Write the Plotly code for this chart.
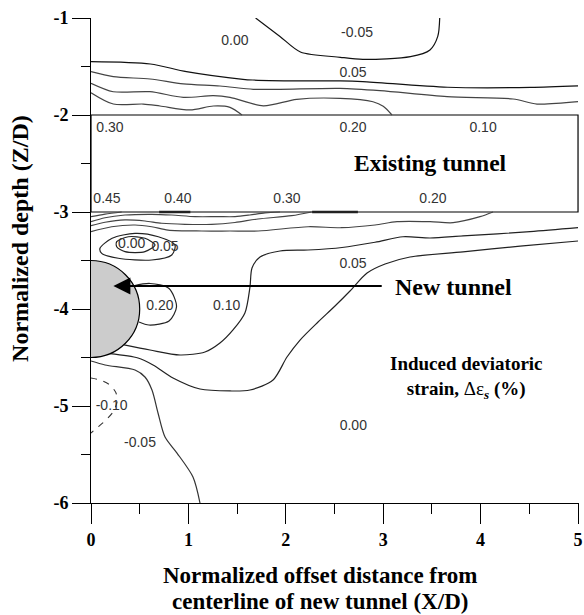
import plotly.graph_objects as go

# ---------------- contour lines (X/D , Z/D) ----------------
top_neg05_x = [1.69, 1.94, 2.15, 2.56, 2.79, 3.28, 3.48, 3.56, 3.58]
top_neg05_y = [-1.0, -1.19, -1.35, -1.405, -1.426, -1.399, -1.33, -1.19, -1.0]

top_a_x = [0, 0.61, 0.98, 1.56, 1.66, 2.28, 2.56, 2.79, 3.66, 4.51, 5.0]
top_a_y = [-1.45, -1.474, -1.553, -1.632, -1.639, -1.649, -1.649, -1.656, -1.714, -1.716, -1.70]

top_b_x = [0, 0.229, 0.606, 0.948, 1.324, 1.666, 1.94, 2.556, 2.967, 3.655, 4.333, 4.579, 5.0]
top_b_y = [-1.553, -1.605, -1.629, -1.68, -1.701, -1.735, -1.735, -1.725, -1.749, -1.811, -1.835, -1.887, -1.863]

top_c_x = [0, 0.229, 0.606, 0.948, 1.256, 1.427, 1.769, 2.112, 2.556, 2.895, 3.0, 3.09]
top_c_y = [-1.673, -1.76, -1.76, -1.818, -1.801, -1.818, -1.905, -1.838, -1.828, -1.863, -1.91, -2.0]

top_d_x = [0, 0.229, 0.537, 0.708, 1.016, 1.256, 1.427, 1.55]
top_d_y = [-1.77, -1.887, -1.887, -1.907, -1.948, -1.907, -1.921, -2.0]

bot_a_x = [0, 0.144, 0.315]
bot_a_y = [-3.048, -3.021, -3.0]

bot_b_x = [0, 0.144, 0.349, 0.623, 0.829, 1.068, 1.304, 1.479, 1.63, 1.786, 1.94]
bot_b_y = [-3.10, -3.059, -3.031, -3.024, -3.031, -3.048, -3.048, -3.048, -3.031, -3.008, -3.0]

bot_c_x = [0, 0.144, 0.349, 0.554, 0.726, 0.965, 1.239, 1.478, 1.715, 2.06, 2.265]
bot_c_y = [-3.141, -3.106, -3.082, -3.093, -3.116, -3.127, -3.127, -3.108, -3.072, -3.038, -3.0]

bot_d_x = [0, 0.212, 0.452, 0.623, 0.791, 1.137, 1.427, 1.717, 2.23, 2.573, 2.916, 3.142, 3.481, 3.717, 3.994, 4.127]
bot_d_y = [-3.203, -3.152, -3.134, -3.152, -3.186, -3.196, -3.196, -3.196, -3.152, -3.162, -3.134, -3.10, -3.10, -3.11, -3.048, -3.0]

c010_x = [0.34, 0.606, 0.914, 1.17, 1.324, 1.458, 1.58, 1.632, 1.653, 1.735, 1.94, 2.228, 2.577, 2.916, 3.203, 3.481, 3.819, 4.507, 5.0]
c010_y = [-4.37, -4.423, -4.474, -4.443, -4.351, -4.216, -4.041, -3.773, -3.577, -3.464, -3.402, -3.392, -3.366, -3.312, -3.255, -3.268, -3.247, -3.203, -3.162]

c005_x = [0.19, 0.483, 0.637, 0.842, 1.119, 1.427, 1.632, 1.869, 2.012, 2.146, 2.331, 2.505, 2.659, 2.834, 3.019, 3.275, 3.819, 4.405, 5.0]
c005_y = [-4.46, -4.505, -4.577, -4.711, -4.825, -4.845, -4.835, -4.732, -4.495, -4.32, -4.134, -3.969, -3.814, -3.629, -3.536, -3.464, -3.412, -3.351, -3.299]

cneg05_x = [0, 0.144, 0.452, 0.554, 0.626, 0.688, 0.760, 0.883, 1.047, 1.119]
cneg05_y = [-4.536, -4.577, -4.629, -4.701, -4.835, -5.072, -5.32, -5.485, -5.732, -6.0]

loop020_x = [0.44, 0.606, 0.801, 0.878, 0.801, 0.595, 0.493]
loop020_y = [-3.76, -3.737, -3.789, -3.977, -4.124, -4.165, -4.134]

loop005_x = [0.092, 0.217, 0.452, 0.691, 0.862, 0.829, 0.623, 0.28, 0.11, 0.092]
loop005_y = [-3.374, -3.271, -3.22, -3.255, -3.34, -3.443, -3.495, -3.477, -3.426, -3.374]

loop000_x = [0.264, 0.383, 0.554, 0.657, 0.554, 0.349, 0.264, 0.264]
loop000_y = [-3.306, -3.255, -3.271, -3.34, -3.409, -3.409, -3.358, -3.306]

cneg10_x = [0, 0.092, 0.195, 0.257, 0.267, 0.226, 0.154, 0.072, 0]
cneg10_y = [-4.711, -4.732, -4.784, -4.866, -4.959, -5.062, -5.144, -5.216, -5.278]

# contour segments lying on the tunnel floor
floor_a_x = [0.70, 1.02]
floor_b_x = [2.27, 2.74]
floor_y = [-3.0, -3.0]

# ---------------- contour labels ----------------
lbl_text = ["0.00", "-0.05", "0.05", "0.30", "0.20", "0.10", "0.45", "0.40", "0.30", "0.20",
            "0.00", "0.05", "0.20", "0.10", "0.05", "-0.10", "-0.05", "0.00"]
lbl_x = [1.478, 2.731, 2.69, 0.195, 2.69, 4.025, 0.164, 0.893, 2.012, 3.511,
         0.418, 0.76, 0.708, 1.393, 2.69, 0.212, 0.503, 2.693]
lbl_y = [-1.244, -1.155, -1.567, -2.134, -2.134, -2.134, -2.876, -2.876, -2.876, -2.876,
         -3.34, -3.371, -3.976, -3.976, -3.546, -5.01, -5.385, -5.213]

# geometry
exist_tunnel = dict(x0=0, x1=5, y0=-3, y1=-2)
new_tunnel = dict(cx=0, cy=-4, r=0.5)
arrow_tip = (0.23, -3.763)
arrow_tail = (3.0, -3.763)

x_ticks = [0, 1, 2, 3, 4, 5]
y_ticks = [-1, -2, -3, -4, -5, -6]

fig = go.Figure()

solid_lines = [
    (top_neg05_x, top_neg05_y, "#111"),
    (top_a_x, top_a_y, "#111"),
    (top_b_x, top_b_y, "#444"),
    (top_c_x, top_c_y, "#444"),
    (top_d_x, top_d_y, "#444"),
    (bot_a_x, bot_a_y, "#444"),
    (bot_b_x, bot_b_y, "#444"),
    (bot_c_x, bot_c_y, "#444"),
    (bot_d_x, bot_d_y, "#444"),
    (c010_x, c010_y, "#222"),
    (c005_x, c005_y, "#222"),
    (cneg05_x, cneg05_y, "#333"),
    (loop020_x, loop020_y, "#222"),
    (loop005_x, loop005_y, "#222"),
    (loop000_x, loop000_y, "#222"),
]
for xs, ys, col in solid_lines:
    fig.add_trace(go.Scatter(x=xs, y=ys, mode="lines",
                             line=dict(color=col, width=1.2, shape="spline", smoothing=0.8),
                             hoverinfo="skip", showlegend=False))

fig.add_trace(go.Scatter(x=cneg10_x, y=cneg10_y, mode="lines",
                         line=dict(color="#333", width=1.1, dash="6px,7px", shape="spline", smoothing=0.8),
                         hoverinfo="skip", showlegend=False))
for fx in (floor_a_x, floor_b_x):
    fig.add_trace(go.Scatter(x=fx, y=floor_y, mode="lines",
                             line=dict(color="#222", width=2.5),
                             hoverinfo="skip", showlegend=False))

fig.add_trace(go.Scatter(x=lbl_x, y=lbl_y, text=lbl_text, mode="text",
                         textfont=dict(family="Liberation Sans", size=14, color="#333"),
                         hoverinfo="skip", showlegend=False))

fig.add_shape(type="rect", xref="x", yref="y", layer="below",
              x0=exist_tunnel["x0"], x1=exist_tunnel["x1"], y0=exist_tunnel["y0"], y1=exist_tunnel["y1"],
              line=dict(color="black", width=1.2), fillcolor="white")
fig.add_shape(type="circle", xref="x", yref="y", layer="above",
              x0=new_tunnel["cx"] - new_tunnel["r"], x1=new_tunnel["cx"] + new_tunnel["r"],
              y0=new_tunnel["cy"] - new_tunnel["r"], y1=new_tunnel["cy"] + new_tunnel["r"],
              line=dict(color="black", width=1.2), fillcolor="#cccccc")

serif = "Liberation Serif"
fig.add_annotation(x=arrow_tip[0], y=arrow_tip[1], ax=arrow_tail[0], ay=arrow_tail[1],
                   xref="x", yref="y", axref="x", ayref="y", text="", showarrow=True,
                   arrowhead=2, arrowsize=1.7, arrowwidth=2, arrowcolor="black")
fig.add_annotation(x=3.1, y=-3.776, xref="x", yref="y", xanchor="left", yanchor="middle",
                   text="<b>New tunnel</b>", showarrow=False,
                   font=dict(family=serif, size=24, color="black"))
fig.add_annotation(x=3.49, y=-2.495, xref="x", yref="y", xanchor="center", yanchor="middle",
                   text="<b>Existing tunnel</b>", showarrow=False,
                   font=dict(family=serif, size=23.5, color="black"))
fig.add_annotation(x=3.86, y=-4.706, xref="x", yref="y", xanchor="center", yanchor="middle",
                   text="<b>Induced deviatoric</b><br><b>strain, </b>Δε<sub><b><i>s</i></b></sub><b> (%)</b>",
                   showarrow=False, align="center",
                   font=dict(family=serif, size=19, color="black"))

x_title_lines = ["Normalized offset distance from", "centerline of new tunnel (X/D)"]
for line_txt, ypos in zip(x_title_lines, [-0.1485, -0.2041]):
    fig.add_annotation(x=0.47, y=ypos, xref="paper", yref="paper", xanchor="center", yanchor="middle",
                       text="<b>" + line_txt + "</b>",
                       showarrow=False, font=dict(family=serif, size=23, color="black"))
fig.add_annotation(x=-0.146, y=0.546, xref="paper", yref="paper", xanchor="center", yanchor="middle",
                   text="<b>Normalized depth (Z/D)</b>", textangle=-90,
                   showarrow=False, font=dict(family=serif, size=24, color="black"))

tickfont = dict(family=serif, size=18, color="black", weight="bold")
fig.update_xaxes(range=[0, 5.01], tickvals=x_ticks, ticktext=[str(v) for v in x_ticks],
                 ticks="outside", ticklen=20, tickwidth=1, tickcolor="black",
                 minor=dict(dtick=0.5, tick0=0, ticks="outside", ticklen=10, tickwidth=1, tickcolor="black"),
                 showline=True, linecolor="black", linewidth=1, showgrid=False, zeroline=False,
                 tickfont=tickfont, automargin=False)
fig.update_yaxes(range=[-6, -1], tickvals=y_ticks, ticktext=[str(v) for v in y_ticks],
                 ticks="outside", ticklen=18, tickwidth=1, tickcolor="black",
                 minor=dict(dtick=0.5, tick0=0, ticks="outside", ticklen=9, tickwidth=1, tickcolor="black"),
                 showline=True, linecolor="black", linewidth=1, showgrid=False, zeroline=False,
                 tickfont=tickfont, automargin=False)

fig.update_layout(width=584, height=615,
                  margin=dict(l=91, r=5, t=18, b=112, autoexpand=False),
                  paper_bgcolor="white", plot_bgcolor="white", showlegend=False)

fig.write_html("out.html", config={"displayModeBar": False},
               post_script="document.body.style.margin='0';document.body.style.overflow='hidden';")
